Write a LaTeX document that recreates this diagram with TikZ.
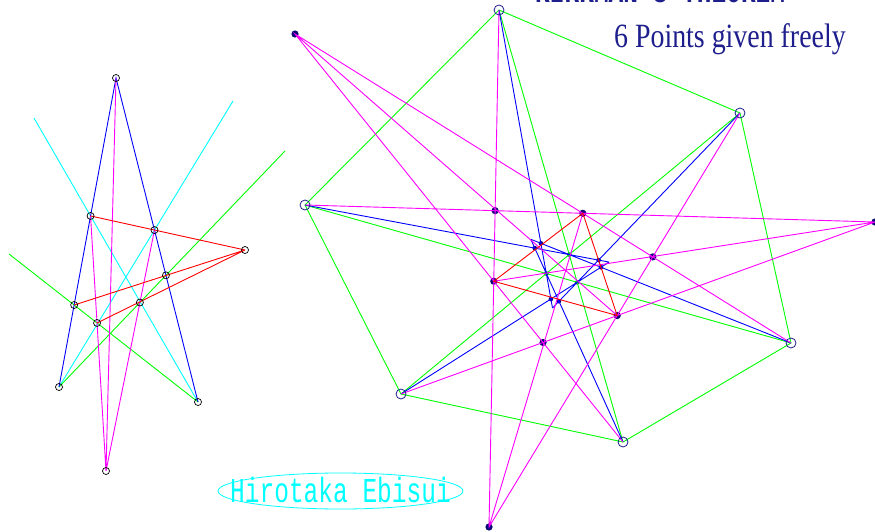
\documentclass[tikz,border=0pt]{standalone}
\usepackage{fontspec}
\newfontfamily\titlefont[FakeStretch=0.7]{Liberation Mono}
\newfontfamily\notefont[FakeStretch=0.82]{Liberation Serif}
\newfontfamily\namefont[FakeStretch=0.7]{Liberation Mono}
\definecolor{navy}{RGB}{30,30,140}
\definecolor{dotblue}{RGB}{10,10,120}
\definecolor{mag}{RGB}{255,0,255}
\definecolor{cyn}{RGB}{0,255,255}
\definecolor{grn}{RGB}{0,255,0}
\definecolor{blu}{RGB}{0,0,255}
\definecolor{rd}{RGB}{255,0,0}
\tikzset{
  ln/.style={line width=0.9pt},
  ring/.style={draw=black, line width=0.7pt},
  given/.style={draw=navy, line width=0.8pt},
  knot/.style={fill=dotblue}
}

\begin{document}
\begin{tikzpicture}[x=1pt,y=-1pt]
    \useasboundingbox (0,0) rectangle (875,532);
    \clip (0,0) rectangle (875,532);

    % left figure
    \coordinate (top) at (116,78);
    \coordinate (bl) at (59,387);
    \coordinate (br) at (198,402);
    \coordinate (bot) at (106,471);
    \coordinate (apex) at (245,250);
    \coordinate (c1) at (34,118);
    \coordinate (c2) at (233,101);
    \coordinate (g1) at (9,254);
    \coordinate (g2) at (285,151);
    \coordinate (x1) at (intersection of top--bl and c1--br);
    \coordinate (x2) at (intersection of top--br and bl--c2);
    \coordinate (x3) at (intersection of top--br and bl--g2);
    \coordinate (x4) at (intersection of top--bl and g1--br);
    \coordinate (x5) at (intersection of bl--g2 and bot--x2);
    \coordinate (x6) at (intersection of g1--br and bot--x1);

    \draw[ln,cyn] (c1) -- (br) (bl) -- (c2);
    \draw[ln,grn] (g1) -- (br) (bl) -- (g2);
    \draw[ln,blu] (bl) -- (top) -- (br);
    \draw[ln,mag] (top) -- (bot) (x1) -- (bot) (x2) -- (bot);
    \draw[ln,rd] (x1) -- (apex) (x4) -- (apex) (x6) -- (apex);
    \foreach \p in {top,bl,br,bot,apex,x1,x2,x3,x4,x5,x6}
        \draw[ring] (\p) circle (3.5pt);

    % right figure, 6 points given freely
    \coordinate (A) at (499,10);
    \coordinate (B) at (740,113);
    \coordinate (C) at (791,343);
    \coordinate (D) at (623,442);
    \coordinate (E) at (401,394);
    \coordinate (F) at (305,205);
    \coordinate (G1) at (295,34);
    \coordinate (G2) at (875,222);
    \coordinate (G3) at (489,527);

    \coordinate (H1) at (intersection of A--G3 and F--G2);
    \coordinate (H2) at (intersection of F--G2 and C--G1);
    \coordinate (H3) at (intersection of B--G3 and C--G1);
    \coordinate (H4) at (intersection of A--G3 and D--G1);
    \coordinate (H5) at (intersection of B--G3 and E--G2);
    \coordinate (H6) at (intersection of D--G1 and E--G2);

    \coordinate (P) at (intersection of B--E and C--F);
    \coordinate (Q) at (intersection of A--D and C--F);
    \coordinate (R) at (intersection of A--D and B--E);
    \coordinate (T1) at (intersection of C--R and D--P);
    \coordinate (T2) at (intersection of E--Q and F--R);
    \coordinate (T3) at (intersection of A--P and B--Q);
    \coordinate (S1) at (intersection of A--P and C--R);
    \coordinate (S2) at (intersection of D--P and F--R);
    \coordinate (S3) at (intersection of F--R and B--Q);
    \coordinate (S4) at (intersection of E--Q and C--R);
    \coordinate (S5) at (intersection of A--P and E--Q);
    \coordinate (S6) at (intersection of B--Q and D--P);

    \foreach \p in {G1,G2,G3,H1,H2,H3,H4,H5,H6}
        \fill[knot] (\p) circle (3.6pt);
    \foreach \p in {P,Q,R,S1,S2,S3,S4,S5,S6}
        \fill[knot] (\p) circle (2.3pt);

    \draw[ln,grn] (A) -- (B) -- (C) -- (D) -- (E) -- (F) -- cycle
        (A) -- (D) (B) -- (E) (C) -- (F);
    \draw[ln,blu] (A) -- (T3) (B) -- (T3) (C) -- (T1) (D) -- (T1)
        (E) -- (T2) (F) -- (T2);
    \draw[ln,mag] (A) -- (G3) -- (B) (C) -- (G1) -- (D) (E) -- (G2) -- (F)
        (G1) -- (H5) (G2) -- (H4) (G3) -- (H2);
    \draw[ln,rd] (H4) -- (H2) -- (H5) -- cycle;
    \foreach \p in {A,B,C,D,E,F}
        \draw[given] (\p) circle (5pt);

    % texts
    \node[anchor=base west, inner sep=0, text=navy, font=\titlefont\bfseries\fontsize{35}{35}\selectfont]
        (title) at (535,3) {KIRKMAN'S THEOREM};
    \node[anchor=base west, inner sep=0, text=navy, font=\notefont\fontsize{34}{34}\selectfont]
        (note) at (614,48) {6 Points given freely};
    \draw[cyn, line width=0.8pt] (340.5,491) ellipse (122.5pt and 18pt);
    \node[anchor=base, inner sep=0, text=cyn, font=\namefont\fontsize{35}{35}\selectfont]
        (author) at (340.5,502) {Hirotaka Ebisui};
\end{tikzpicture}
\end{document}
